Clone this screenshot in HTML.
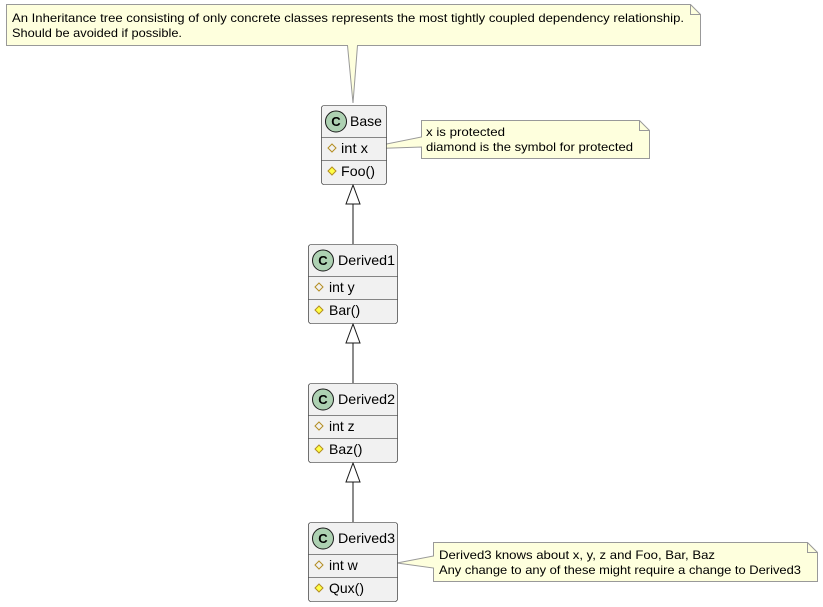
<!DOCTYPE html>
<html><head><meta charset="utf-8"><style>
html,body{margin:0;padding:0;background:#fff;}
svg{display:block;font-family:"Liberation Sans",Arial,sans-serif;}
</style></head><body>
<svg width="823" height="607" viewBox="0 0 823 607" xmlns="http://www.w3.org/2000/svg">
<path d="M6.5,4.5 H690.5 L700.5,14.5 V45.5 H357.5 L353,103 L347.5,45.5 H6.5 Z" fill="#FEFFDD" stroke="#999" stroke-width="1"/>
<path d="M690.5,4.5 V14.5 H700.5" fill="none" stroke="#999"/>
<text x="12" y="22" font-size="12" fill="#000" textLength="672" lengthAdjust="spacingAndGlyphs">An Inheritance tree consisting of only concrete classes represents the most tightly coupled dependency relationship.</text>
<text x="12" y="37" font-size="12" fill="#000" textLength="170" lengthAdjust="spacingAndGlyphs">Should be avoided if possible.</text>

<path d="M421.5,120.5 H639.5 L649.5,130.5 V158.5 H421.5 V147 L362,149 L421.5,137 Z" fill="#FEFFDD" stroke="#999"/>
<path d="M639.5,120.5 V130.5 H649.5" fill="none" stroke="#999"/>
<text x="426" y="136" font-size="12" textLength="79" lengthAdjust="spacingAndGlyphs">x is protected</text>
<text x="426" y="151" font-size="12" textLength="207" lengthAdjust="spacingAndGlyphs">diamond is the symbol for protected</text>

<path d="M433.5,542.5 H807.5 L817.5,552.5 V581.5 H433.5 V568 L397,563 L433.5,556 Z" fill="#FEFFDD" stroke="#999"/>
<path d="M807.5,542.5 V552.5 H817.5" fill="none" stroke="#999"/>
<text x="439" y="559" font-size="12" textLength="276" lengthAdjust="spacingAndGlyphs">Derived3 knows about x, y, z and Foo, Bar, Baz</text>
<text x="439" y="574" font-size="12" textLength="362" lengthAdjust="spacingAndGlyphs">Any change to any of these might require a change to Derived3</text>

<g stroke="#181818" fill="#fff">
<line x1="353" y1="204" x2="353" y2="244"/>
<path d="M353,185 L346,204 H360 Z"/>
<line x1="353" y1="343" x2="353" y2="383"/>
<path d="M353,324 L346,343 H360 Z"/>
<line x1="353" y1="482" x2="353" y2="522"/>
<path d="M353,463 L346,482 H360 Z"/>
</g>

<g font-size="14">
<rect x="321.5" y="105.5" width="65" height="79" rx="2.5" fill="#F1F1F1" stroke="#181818" stroke-width="0.6"/>
<line x1="321.5" y1="137.5" x2="386.5" y2="137.5" stroke="#181818" stroke-width="0.6"/>
<line x1="321.5" y1="160.5" x2="386.5" y2="160.5" stroke="#181818" stroke-width="0.6"/>
<circle cx="336" cy="121.5" r="10.5" fill="#ADD1B2" stroke="#181818"/>
<text x="336" y="126" font-size="13" font-weight="bold" text-anchor="middle">C</text>
<text x="350" y="126" textLength="32" lengthAdjust="spacingAndGlyphs">Base</text>
<path d="M332,144 L336,148 L332,152 L328,148 Z" fill="none" stroke="#B38D22"/>
<text x="341" y="153" textLength="27" lengthAdjust="spacingAndGlyphs">int x</text>
<path d="M332,167 L336,171 L332,175 L328,171 Z" fill="#FFFF44" stroke="#B38D22"/>
<text x="341" y="176" textLength="34" lengthAdjust="spacingAndGlyphs">Foo()</text>

<rect x="308.5" y="244.5" width="89" height="79" rx="2.5" fill="#F1F1F1" stroke="#181818" stroke-width="0.6"/>
<line x1="308.5" y1="276.5" x2="397.5" y2="276.5" stroke="#181818" stroke-width="0.6"/>
<line x1="308.5" y1="299.5" x2="397.5" y2="299.5" stroke="#181818" stroke-width="0.6"/>
<circle cx="323" cy="260.5" r="10.5" fill="#ADD1B2" stroke="#181818"/>
<text x="323" y="265" font-size="13" font-weight="bold" text-anchor="middle">C</text>
<text x="338" y="265" textLength="57" lengthAdjust="spacingAndGlyphs">Derived1</text>
<path d="M319,283 L323,287 L319,291 L315,287 Z" fill="none" stroke="#B38D22"/>
<text x="329" y="292">int y</text>
<path d="M319,306 L323,310 L319,314 L315,310 Z" fill="#FFFF44" stroke="#B38D22"/>
<text x="329" y="315">Bar()</text>

<rect x="308.5" y="383.5" width="89" height="79" rx="2.5" fill="#F1F1F1" stroke="#181818" stroke-width="0.6"/>
<line x1="308.5" y1="415.5" x2="397.5" y2="415.5" stroke="#181818" stroke-width="0.6"/>
<line x1="308.5" y1="438.5" x2="397.5" y2="438.5" stroke="#181818" stroke-width="0.6"/>
<circle cx="323" cy="399.5" r="10.5" fill="#ADD1B2" stroke="#181818"/>
<text x="323" y="404" font-size="13" font-weight="bold" text-anchor="middle">C</text>
<text x="338" y="404" textLength="57" lengthAdjust="spacingAndGlyphs">Derived2</text>
<path d="M319,422 L323,426 L319,430 L315,426 Z" fill="none" stroke="#B38D22"/>
<text x="329" y="431">int z</text>
<path d="M319,445 L323,449 L319,453 L315,449 Z" fill="#FFFF44" stroke="#B38D22"/>
<text x="329" y="454">Baz()</text>

<rect x="308.5" y="522.5" width="89" height="79" rx="2.5" fill="#F1F1F1" stroke="#181818" stroke-width="0.6"/>
<line x1="308.5" y1="554.5" x2="397.5" y2="554.5" stroke="#181818" stroke-width="0.6"/>
<line x1="308.5" y1="577.5" x2="397.5" y2="577.5" stroke="#181818" stroke-width="0.6"/>
<circle cx="323" cy="538.5" r="10.5" fill="#ADD1B2" stroke="#181818"/>
<text x="323" y="543" font-size="13" font-weight="bold" text-anchor="middle">C</text>
<text x="338" y="543" textLength="57" lengthAdjust="spacingAndGlyphs">Derived3</text>
<path d="M319,561 L323,565 L319,569 L315,565 Z" fill="none" stroke="#B38D22"/>
<text x="329" y="570">int w</text>
<path d="M319,584 L323,588 L319,592 L315,588 Z" fill="#FFFF44" stroke="#B38D22"/>
<text x="329" y="593">Qux()</text>
</g>
</svg>
</body></html>
